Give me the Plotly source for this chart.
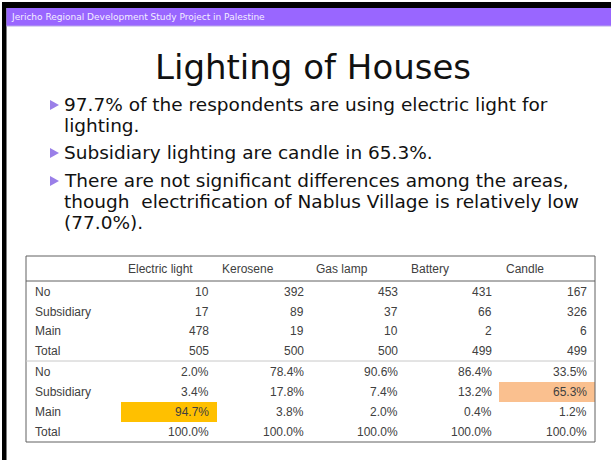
import plotly.graph_objects as go

# ---------------- data ----------------
header_text = "Jericho Regional Development Study Project in Palestine"
title_text = "Lighting of Houses"
bullet_lines = [
    ["97.7% of the respondents are using electric light for", "lighting."],
    ["Subsidiary lighting are candle in 65.3%."],
    ["There are not significant differences among the areas,",
     "though  electrification of Nablus Village is relatively low",
     "(77.0%)."],
]

categories = ["Electric light", "Kerosene", "Gas lamp", "Battery", "Candle"]
row_labels = ["No", "Subsidiary", "Main", "Total"]

count_no = [10, 392, 453, 431, 167]
count_subsidiary = [17, 89, 37, 66, 326]
count_main = [478, 19, 10, 2, 6]
count_total = [505, 500, 500, 499, 499]

pct_no = [2.0, 78.4, 90.6, 86.4, 33.5]
pct_subsidiary = [3.4, 17.8, 7.4, 13.2, 65.3]
pct_main = [94.7, 3.8, 2.0, 0.4, 1.2]
pct_total = [100.0, 100.0, 100.0, 100.0, 100.0]

# highlighted cells: (block, row index, column index, colour)
highlights = [("pct", 2, 0, "#FFC000"), ("pct", 1, 4, "#FAC08F")]

# ---------------- layout constants ----------------
W, H = 611, 460
TBL_L, TBL_R, TBL_T, TBL_B = 26, 595, 256, 442
HEAD_LINE_Y = 281
SEP_Y = 361
col_right = [211, 306, 400, 494, 589]
col_head_center = [160, 248, 342, 430, 525]
count_row_y = [292, 311.5, 331, 351]
pct_row_y = [372, 392, 412, 432]
header_y = 269
label_x = 33
TBL_FONT = dict(family="Liberation Sans, Arial, sans-serif", size=12, color="#404040")

fig = go.Figure()
shapes = []
annotations = []

# slide frame
shapes.append(dict(type="rect", x0=2, x1=W, y0=2, y1=8, fillcolor="black", line_width=0, layer="below"))
shapes.append(dict(type="rect", x0=2, x1=6.5, y0=2, y1=H, fillcolor="black", line_width=0, layer="below"))
shapes.append(dict(type="rect", x0=6.5, x1=W, y0=8, y1=26, fillcolor="#9966FF", line_width=0, layer="below"))
shapes.append(dict(type="line", x0=6.5, x1=W, y0=26, y1=26, line=dict(color="#B8A8E8", width=1)))

annotations.append(dict(x=9, y=17, text=header_text, showarrow=False, xanchor="left", yanchor="middle",
                        font=dict(family="DejaVu Sans", size=9, color="#F4EEFF")))

annotations.append(dict(x=313, y=67, text=title_text, showarrow=False, xanchor="center", yanchor="middle",
                        font=dict(family="DejaVu Sans", size=34, color="#111111")))

# bullets
line_y = [[104, 125], [152], [180, 201, 222]]
for lines, ys in zip(bullet_lines, line_y):
    by = ys[0] + 1
    shapes.append(dict(type="path", path=f"M 50 {by-5} L 59 {by} L 50 {by+5} Z",
                       fillcolor="#9A7FE8", line_width=0))
    for t, y in zip(lines, ys):
        annotations.append(dict(x=62, y=y, text=t, showarrow=False, xanchor="left", yanchor="middle",
                                font=dict(family="DejaVu Sans", size=18.5, color="#111111")))

# table highlights
blocks = {"count": count_row_y, "pct": pct_row_y}
for block, r, c, color in highlights:
    yc = blocks[block][r]
    shapes.append(dict(type="rect", x0=col_right[c] - 90, x1=col_right[c] + 6,
                       y0=yc - 10, y1=yc + 10, fillcolor=color, line_width=0, layer="below"))

# table lines
shapes.append(dict(type="rect", x0=TBL_L, x1=TBL_R, y0=TBL_T, y1=TBL_B, line=dict(color="#606060", width=1)))
shapes.append(dict(type="line", x0=TBL_L, x1=TBL_R, y0=HEAD_LINE_Y, y1=HEAD_LINE_Y, line=dict(color="#606060", width=1)))
shapes.append(dict(type="line", x0=TBL_L, x1=TBL_R, y0=SEP_Y, y1=SEP_Y, line=dict(color="#C8C8C8", width=1)))

# column headers
for cat, cx in zip(categories, col_head_center):
    annotations.append(dict(x=cx, y=header_y, text=cat, showarrow=False, xanchor="center", yanchor="middle",
                            font=TBL_FONT))

count_rows = [count_no, count_subsidiary, count_main, count_total]
pct_rows = [pct_no, pct_subsidiary, pct_main, pct_total]

for lab, y, vals in zip(row_labels, count_row_y, count_rows):
    annotations.append(dict(x=label_x, y=y, text=lab, showarrow=False, xanchor="left", yanchor="middle", font=TBL_FONT))
    for v, xr in zip(vals, col_right):
        annotations.append(dict(x=xr, y=y, text=f"{v}", showarrow=False, xanchor="right", yanchor="middle", font=TBL_FONT))

for lab, y, vals in zip(row_labels, pct_row_y, pct_rows):
    annotations.append(dict(x=label_x, y=y, text=lab, showarrow=False, xanchor="left", yanchor="middle", font=TBL_FONT))
    for v, xr in zip(vals, col_right):
        annotations.append(dict(x=xr, y=y, text=f"{v:.1f}%", showarrow=False, xanchor="right", yanchor="middle", font=TBL_FONT))

fig.update_layout(
    width=W, height=H,
    margin=dict(l=0, r=0, t=0, b=0),
    paper_bgcolor="white", plot_bgcolor="white",
    xaxis=dict(range=[0, W], visible=False, fixedrange=True),
    yaxis=dict(range=[H, 0], visible=False, fixedrange=True),
    shapes=shapes, annotations=annotations, showlegend=False,
)

fig.write_html(
    "out.html",
    config={"displayModeBar": False, "staticPlot": True},
    post_script=(
        "document.body.style.margin='0';document.body.style.overflow='hidden';"
        "document.documentElement.style.overflow='hidden';"
        "document.body.style.background='white';document.documentElement.style.background='white';"
    ),
)
